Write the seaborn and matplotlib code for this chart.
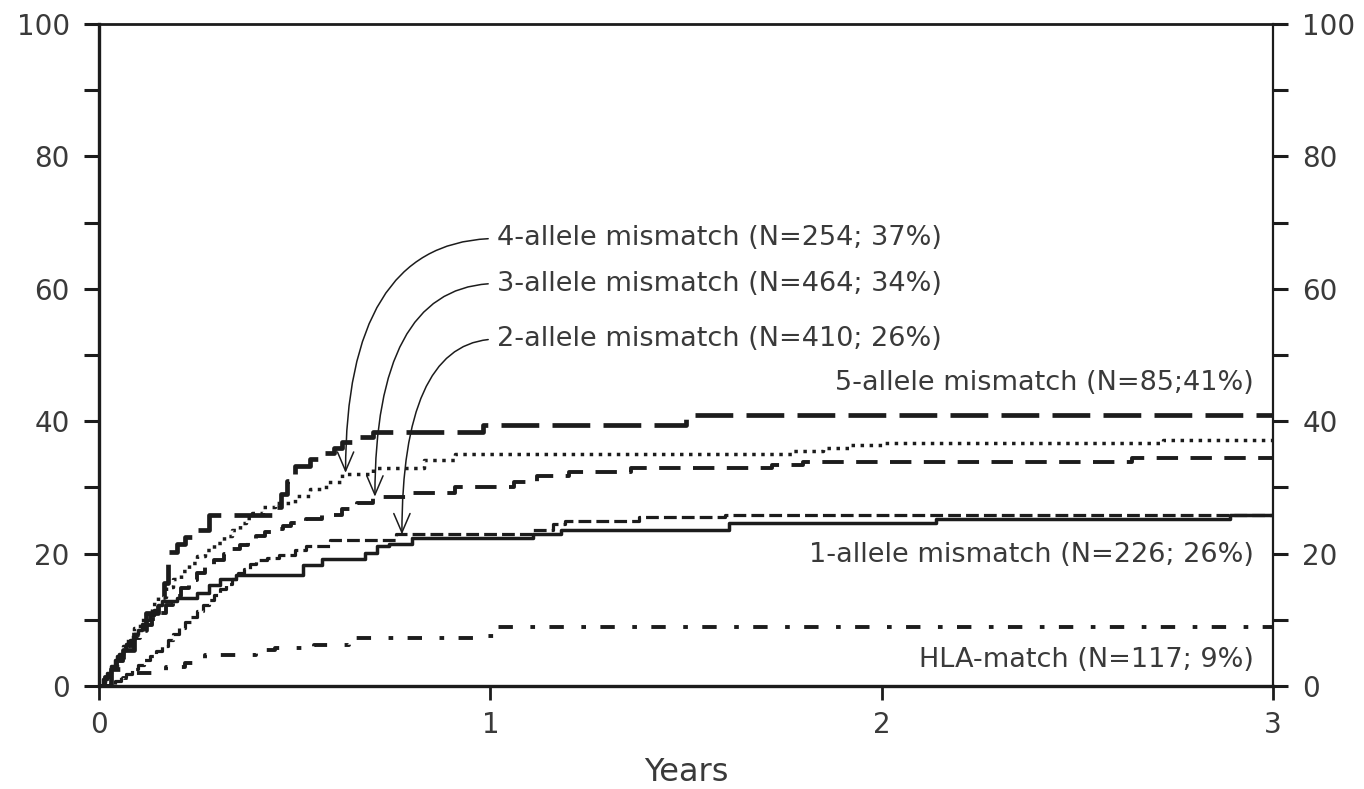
import matplotlib
matplotlib.use("Agg")
import matplotlib.pyplot as plt
import seaborn as sns
import pandas as pd
from matplotlib.ticker import NullLocator

# ---------------- data ----------------
# years, cumulative incidence (%)
t_hla = [0, 0.03, 0.06, 0.09, 0.17, 0.22, 0.27, 0.40, 0.45, 0.55, 0.64, 0.97, 1.02, 3.0]
v_hla = [0, 0.6, 1.2, 2.0, 2.9, 3.5, 4.7, 5.5, 5.7, 6.2, 7.3, 7.5, 8.9, 8.9]

t_mm1 = [0, 0.01, 0.02, 0.03, 0.04, 0.05, 0.06, 0.07, 0.08, 0.09, 0.10, 0.11, 0.12, 0.13,
         0.14, 0.15, 0.16, 0.20, 0.25, 0.28, 0.31, 0.35, 0.52, 0.57, 0.68, 0.71, 0.74,
         0.80, 1.11, 1.18, 1.61, 2.14, 2.89, 3.0]
v_mm1 = [0, 1.0, 2.0, 3.0, 4.0, 4.8, 5.5, 6.3, 7.0, 7.8, 8.5, 9.3, 10.0, 10.8,
         11.5, 12.2, 12.8, 13.3, 14.0, 15.2, 16.2, 16.8, 18.3, 19.2, 20.1, 21.1, 21.5,
         22.4, 23.0, 23.6, 24.7, 25.3, 25.9, 25.9]

t_mm2 = [0, 0.04, 0.055, 0.07, 0.085, 0.10, 0.115, 0.13, 0.145, 0.16, 0.175, 0.19, 0.205,
         0.22, 0.235, 0.25, 0.265, 0.28, 0.295, 0.31, 0.325, 0.34, 0.355, 0.37, 0.385,
         0.40, 0.43, 0.46, 0.50, 0.53, 0.59, 0.76, 1.11, 1.16, 1.19, 1.38, 1.6, 3.0]
v_mm2 = [0, 0.8, 1.3, 1.8, 2.5, 3.2, 3.9, 4.6, 5.3, 6.0, 6.9, 7.8, 8.7,
         9.6, 10.5, 11.3, 12.2, 13.0, 13.8, 14.6, 15.4, 16.2, 17.0, 17.7, 18.4,
         19.0, 19.4, 19.8, 20.5, 21.2, 22.1, 22.9, 23.6, 24.4, 25.0, 25.6, 25.9, 25.9]

t_mm3 = [0, 0.015, 0.03, 0.045, 0.06, 0.075, 0.09, 0.105, 0.12, 0.135, 0.15, 0.17, 0.19,
         0.21, 0.23, 0.25, 0.27, 0.295, 0.32, 0.34, 0.36, 0.38, 0.40, 0.425, 0.45, 0.47,
         0.49, 0.53, 0.57, 0.62, 0.66, 0.70, 0.80, 0.91, 1.06, 1.12, 1.20, 1.36, 1.72,
         1.80, 2.64, 3.0]
v_mm3 = [0, 1.3, 2.5, 3.8, 5.0, 6.1, 7.2, 8.2, 9.2, 10.1, 11.0, 12.3, 13.6,
         14.8, 16.0, 17.0, 18.0, 19.0, 20.0, 20.7, 21.3, 22.0, 22.6, 23.2, 23.7, 24.2,
         24.7, 25.3, 25.9, 26.8, 27.7, 28.5, 29.1, 30.1, 30.8, 31.7, 32.3, 32.9, 33.4,
         33.8, 34.4, 34.4]

t_mm4 = [0, 0.015, 0.03, 0.045, 0.06, 0.075, 0.09, 0.105, 0.12, 0.135, 0.15, 0.17, 0.19,
         0.21, 0.23, 0.25, 0.27, 0.295, 0.32, 0.34, 0.36, 0.375, 0.39, 0.42, 0.45, 0.50,
         0.54, 0.58, 0.62, 0.70, 0.83, 0.91, 1.77, 1.85, 1.92, 2.0, 2.72, 3.0]
v_mm4 = [0, 1.5, 3.0, 4.5, 6.0, 7.4, 8.8, 10.0, 11.3, 12.4, 13.5, 14.9, 16.2,
         17.4, 18.6, 19.6, 20.6, 21.6, 22.6, 23.6, 24.6, 25.4, 26.2, 27.0, 27.7, 28.7,
         29.7, 30.8, 32.0, 33.0, 34.2, 35.0, 35.5, 36.0, 36.4, 36.7, 37.2, 37.2]

t_mm5 = [0, 0.03, 0.06, 0.09, 0.12, 0.15, 0.165, 0.175, 0.20, 0.22, 0.245, 0.28, 0.45,
         0.465, 0.48, 0.50, 0.54, 0.57, 0.60, 0.62, 0.66, 0.70, 0.98, 1.50, 3.0]
v_mm5 = [0, 2.5, 5.5, 8.5, 11.0, 13.5, 15.5, 20.3, 21.4, 22.5, 23.6, 25.9, 27.0,
         29.0, 31.0, 33.2, 34.3, 35.2, 36.0, 36.8, 37.6, 38.4, 39.4, 41.0, 41.0]

labels = {
    "hla": "HLA-match (N=117; 9%)",
    "mm1": "1-allele mismatch (N=226; 26%)",
    "mm2": "2-allele mismatch (N=410; 26%)",
    "mm3": "3-allele mismatch (N=464; 34%)",
    "mm4": "4-allele mismatch (N=254; 37%)",
    "mm5": "5-allele mismatch (N=85;41%)",
}

x_ticks = [0, 1, 2, 3]
y_ticks = [0, 20, 40, 60, 80, 100]
y_minor = [10, 30, 50, 70, 90]
x_label = "Years"

# ---------------- styling ----------------
sns.set_theme(style="ticks")
plt.rcParams["font.family"] = ["DejaVu Sans"]
INK = "#1c1c1c"
TXT = "#3a3a3a"

fig = plt.figure(figsize=(13.64, 7.89), dpi=100)
ax = fig.add_axes([0.0726, 0.1305, 0.8607, 0.8391])

series = [
    ("mm5", t_mm5, v_mm5, 3.4, (0, (8.0, 2.8))),
    ("mm4", t_mm4, v_mm4, 2.5, (0, (1.0, 1.6))),
    ("mm3", t_mm3, v_mm3, 2.8, (0, (5.5, 3.2))),
    ("mm2", t_mm2, v_mm2, 2.3, (0, (4.0, 1.6))),
    ("mm1", t_mm1, v_mm1, 2.5, "-"),
    ("hla", t_hla, v_hla, 2.8, (0, (3.7, 4.5, 1.2, 3.7))),
]

for key, t, v, lw, ls in series:
    df = pd.DataFrame({"Years": t, "CI": v})
    sns.lineplot(data=df, x="Years", y="CI", ax=ax, estimator=None, sort=False,
                 drawstyle="steps-post", color=INK, linewidth=lw, linestyle=ls,
                 legend=False)

ax.set_xlim(0, 3)
ax.set_ylim(0, 100)
ax.set_xticks(x_ticks)
ax.set_xticklabels([str(x) for x in x_ticks])
ax.set_yticks(y_ticks)
ax.set_yticklabels([str(y) for y in y_ticks])
ax.set_yticks(y_minor, minor=True)
ax.xaxis.set_minor_locator(NullLocator())
ax.set_xlabel(x_label, fontsize=23, color=TXT, labelpad=13)
ax.set_ylabel("")

ax.tick_params(axis="y", which="both", direction="out", length=11, width=2.2,
               color=INK, left=True, right=True, labelleft=True, labelright=True,
               labelsize=20, labelcolor=TXT, pad=10)
ax.tick_params(axis="x", which="major", direction="out", length=10, width=2.0,
               color=INK, labelsize=20, labelcolor=TXT, pad=8)

for side, w in [("left", 2.4), ("bottom", 2.4), ("top", 2.0), ("right", 1.6)]:
    ax.spines[side].set_visible(True)
    ax.spines[side].set_linewidth(w)
    ax.spines[side].set_color(INK)

# ---------------- annotations ----------------
arrow_kw = dict(arrowstyle="->,head_length=0.7,head_width=0.3",
                connectionstyle="angle3,angleA=0,angleB=90",
                lw=1.1, color=INK, shrinkA=4, shrinkB=0, relpos=(0, 0.5))
ann_fs = 19.5

ax.annotate(labels["mm4"], xy=(0.63, 32.2), xytext=(1.017, 67.6),
            ha="left", va="center", fontsize=ann_fs, color=TXT, arrowprops=arrow_kw)
ax.annotate(labels["mm3"], xy=(0.705, 28.6), xytext=(1.017, 60.8),
            ha="left", va="center", fontsize=ann_fs, color=TXT, arrowprops=arrow_kw)
ax.annotate(labels["mm2"], xy=(0.774, 22.9), xytext=(1.017, 52.4),
            ha="left", va="center", fontsize=ann_fs, color=TXT, arrowprops=arrow_kw)

ax.text(2.95, 45.7, labels["mm5"], ha="right", va="center", fontsize=ann_fs, color=TXT)
ax.text(2.95, 19.8, labels["mm1"], ha="right", va="center", fontsize=ann_fs, color=TXT)
ax.text(2.95, 3.9, labels["hla"], ha="right", va="center", fontsize=ann_fs, color=TXT)

fig.savefig("out.png", dpi=100)
